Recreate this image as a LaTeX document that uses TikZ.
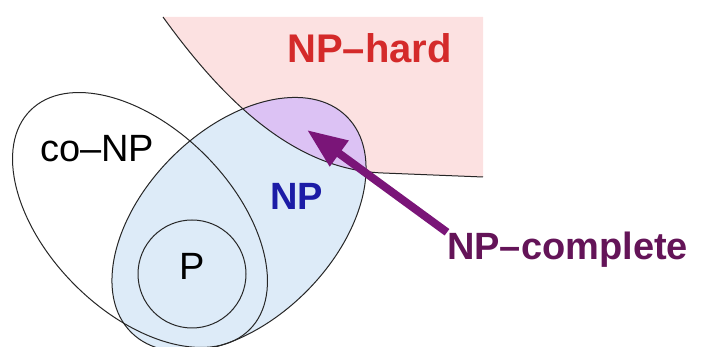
\documentclass[tikz,border=0pt]{standalone}
\usepackage{fontspec}
\setmainfont{Liberation Sans}
\usepackage{tikz}
\usetikzlibrary{arrows.meta,shapes.geometric}
\definecolor{cxPink}{HTML}{FCE1E1}
\definecolor{cxBlue}{HTML}{DDEBF8}
\definecolor{cxLilac}{HTML}{DCC2F4}
\definecolor{cxRed}{HTML}{D42A2A}
\definecolor{cxNavy}{HTML}{1C1CA6}
\definecolor{cxPlum}{HTML}{7A1578}
\definecolor{cxPlumText}{HTML}{641458}

\begin{document}
\begin{tikzpicture}[x=1pt,y=1pt,
  setline/.style={draw=black!85,line width=1pt},
  setlabel/.style={font=\fontsize{38}{40}\selectfont,anchor=base west,inner sep=0pt}]
  \useasboundingbox (0,0) rectangle (702,347);
  % NP-hard area, its boundary and the NP-complete part
  \fill[cxPink] (163,330) -- (483,330) -- (483,170) -- (383,174)
    .. controls (300,177) and (230,237) .. (163,330) -- cycle;
  \fill[cxBlue] (239,122.5) ellipse [x radius=152.5,y radius=95,rotate=45];
  \begin{scope}
    \clip (163,330) -- (483,330) -- (483,170) -- (383,174)
      .. controls (300,177) and (230,237) .. (163,330) -- cycle;
    \fill[cxLilac] (239,122.5) ellipse [x radius=152.5,y radius=95,rotate=45];
  \end{scope}
  \draw[setline] (163,330) .. controls (230,237) and (300,177) .. (383,174) -- (483,170);
  % the classes
  \node[setline,ellipse,inner sep=0pt,minimum width=310,minimum height=184,rotate=-45] (conp) at (140,127) {};
  \node[setline,ellipse,inner sep=0pt,minimum width=305,minimum height=190,rotate=45] (np) at (239,122.5) {};
  \node[setline,circle,inner sep=0pt,minimum size=108] (p) at (192,73) {};
  % labels
  \node[setlabel,font=\fontsize{40}{42}\selectfont\bfseries,text=cxRed] (nphard) at (287,284) {NP–hard};
  \node[setlabel] (conplbl) at (40,185) {co–NP};
  \node[setlabel,font=\fontsize{38}{40}\selectfont\bfseries,text=cxNavy] (nplbl) at (270,137) {NP};
  \node[setlabel] (plbl) at (179,67) {P};
  \node[setlabel,font=\fontsize{38}{40}\selectfont\bfseries,text=cxPlumText] (npc) at (447,87) {NP–complete};
  \coordinate (npctip) at (307,217);
  \draw[cxPlum,line width=8pt,-{Triangle[length=40pt,width=30pt]}] (npc.north west) -- (npctip);
\end{tikzpicture}
\end{document}
